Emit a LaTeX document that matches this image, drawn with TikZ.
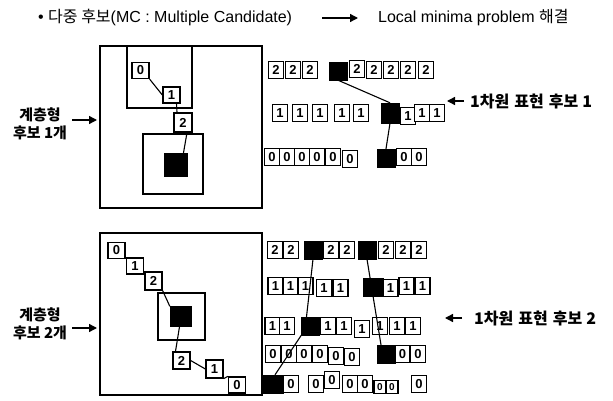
\documentclass[tikz,border=0pt]{standalone}
\usepackage{fontspec}
\setmainfont{Liberation Sans}
\newfontfamily\kr{Noto Sans CJK KR}
\usetikzlibrary{arrows.meta}
\begin{document}
\begin{tikzpicture}[x=1pt,y=-1pt,
  cell/.style={draw,line width=1.3pt,minimum width=15pt,minimum height=17pt,inner sep=0pt,font=\fontsize{13}{13}\selectfont\bfseries,fill=white},
  blk/.style={draw,fill=black,minimum width=18pt,minimum height=18pt,inner sep=0pt},
  tree/.style={draw,line width=1.3pt,minimum width=17pt,minimum height=16pt,inner sep=0pt,font=\fontsize{13}{13}\selectfont\bfseries,fill=white},
  frame/.style={draw,line width=1.1pt,inner sep=0pt},
  link/.style={line width=1.1pt},
  arr/.style={line width=1.4pt,-{Triangle[length=8pt,width=8pt]}},
  lbl/.style={font=\kr\bfseries\fontsize{15}{18}\selectfont,align=center,inner sep=0pt}
]
\useasboundingbox (0,0) rectangle (613,401);

% ---------- title ----------
\node[anchor=west,inner sep=0pt,font=\fontsize{16}{16}\selectfont] (title) at (38,18) {•\ {\kr 다중 후보}(MC : Multiple Candidate)};
\node[anchor=west,inner sep=0pt,font=\fontsize{16}{16}\selectfont] (res) at (378,18) {Local minima problem {\kr 해결}};
\coordinate (ta0) at (322,18);
\coordinate (ta1) at (358,18);
\draw[arr] (ta0) -- (ta1);

% ---------- top tree ----------
\node[frame,minimum width=162pt,minimum height=162pt] (outer1) at (181,127) {};
\node[frame,minimum width=65pt,minimum height=62pt] (inner1) at (159.5,77) {};
\node[frame,minimum width=60pt,minimum height=60pt] (sq1) at (173,164) {};
\node[blk,minimum width=23pt,minimum height=23pt] (blk1) at (175.5,164.5) {};
\node[tree] (o0) at (140.5,70.5) {0};
\node[tree] (o1) at (171.5,95) {1};
\node[tree,minimum width=18pt,minimum height=19pt] (o2) at (183,122.5) {2};
\draw[link] (o0.south east) -- (o1.west);
\draw[link] ([xshift=5pt]o1.south) -- ([xshift=-6pt]o2.north);
\draw[link] ([xshift=4pt]o2.south) -- ([xshift=8pt]blk1.north);

% ---------- bottom tree ----------
\node[frame,minimum width=162pt,minimum height=162pt] (outer2) at (181,314) {};
\node[frame,minimum width=47pt,minimum height=47pt] (sq2) at (181.5,316.5) {};
\node[blk,minimum width=21pt,minimum height=20pt] (blk2) at (180.5,316.5) {};
\node[tree] (b0) at (116.5,250.5) {0};
\node[tree] (b1) at (135,266) {1};
\node[tree,minimum height=18pt] (b2) at (153.5,281) {2};
\node[tree,minimum height=17pt] (c2) at (181.5,360.5) {2};
\node[tree,minimum height=18pt] (c1) at (214.5,369) {1};
\node[tree] (c0) at (237,385) {0};
\draw[link] (b2.south east) -- (blk2.north west);
\draw[link] ([xshift=-1pt]blk2.south) -- ([xshift=-6pt]c2.north);
\draw[link] (c2.east) -- (c1.west);
\draw[link] (c1.south east) -- (c0.north west);

% ---------- top rows ----------
\foreach \x/\y [count=\i] in {276/70,293/70,310/70,357/69,374/70,391/70,408/70,426/70}
  \node[cell] (tA\i) at (\x,\y) {2};
\node[blk] (t2k) at (338,71) {};
\foreach \x/\y [count=\i] in {280/113,300/113,320/113,342/113,361/113,408/116,422/113,437/113}
  \node[cell] (tB\i) at (\x,\y) {1};
\node[blk,minimum height=20pt] (t1k) at (390,113) {};
\foreach \x/\y [count=\i] in {272/157,287/157,302/157,317/157,333/157,350/159,404/157,419/157}
  \node[cell] (tC\i) at (\x,\y) {0};
\node[blk] (t0k) at (386,158) {};
\draw[link] (t2k.south) -- (t1k.north);
\draw[link] (t1k.south) -- (t0k.north);

% ---------- bottom rows ----------
\foreach \x/\y [count=\i] in {275/250,291/250,331/250,347/250,386/250,403/250,419/250}
  \node[cell] (bA\i) at (\x,\y) {2};
\node[blk] (bk1) at (313,250) {};
\node[blk] (bk2) at (367,250) {};
\foreach \x/\y [count=\i] in {275.5/286,290.5/286,305.5/286,324/288,340.5/288,390.5/288,406.5/286,422.5/286}
  \node[cell] (bB\i) at (\x,\y) {1};
\node[blk,minimum width=20pt] (ak) at (373,287) {};
\foreach \x/\y [count=\i] in {272.5/326,287/326,328/326,344/326,362/329,380/326,397/326,413/326}
  \node[cell] (bC\i) at (\x,\y) {1};
\node[blk] (ck) at (310.5,326) {};
\foreach \x/\y [count=\i] in {273/354,289/354,304/354,320/354,336/356,352/357,402.5/354,418/354}
  \node[cell] (bD\i) at (\x,\y) {0};
\node[blk] (dk) at (386,354) {};
\foreach \x/\y [count=\i] in {291/384,316/384,332/380,350/384,365/384,419/384}
  \node[cell] (bE\i) at (\x,\y) {0};
\foreach \x/\y [count=\i] in {380/387,392/387}
  \node[cell,minimum width=12pt,minimum height=13pt,font=\fontsize{10}{10}\selectfont\bfseries] (bF\i) at (\x,\y) {0};
\node[blk,minimum width=20pt] (ek) at (273,384) {};
\draw[link] (bk1.south) -- ([xshift=-4pt]ck.north);
\draw[link] (ck.south west) -- ([xshift=2pt]ek.north);
\draw[link] (bk2.south) -- ([xshift=-5pt]dk.north);

% ---------- side labels ----------
\node[lbl] (l1) at (40,124) {계층형\\후보 1개};
\coordinate (la0) at (72,120);
\coordinate (la1) at (97,120);
\draw[arr] (la0) -- (la1);
\node[lbl] (l2) at (40,324) {계층형\\후보 2개};
\coordinate (lb0) at (72,328);
\coordinate (lb1) at (97,328);
\draw[arr] (lb0) -- (lb1);

\node[lbl,anchor=west,font=\kr\bfseries\fontsize{16}{18}\selectfont] (r1) at (470,101) {1차원\hspace{5pt}표현\hspace{5pt}후보\hspace{4pt}1};
\coordinate (ra0) at (464,101);
\coordinate (ra1) at (447,101);
\draw[arr] (ra0) -- (ra1);
\node[lbl,anchor=west,font=\kr\bfseries\fontsize{16}{18}\selectfont] (r2) at (474,318) {1차원\hspace{5pt}표현\hspace{5pt}후보\hspace{4pt}2};
\coordinate (rb0) at (462,318);
\coordinate (rb1) at (445,318);
\draw[arr] (rb0) -- (rb1);
\end{tikzpicture}
\end{document}
